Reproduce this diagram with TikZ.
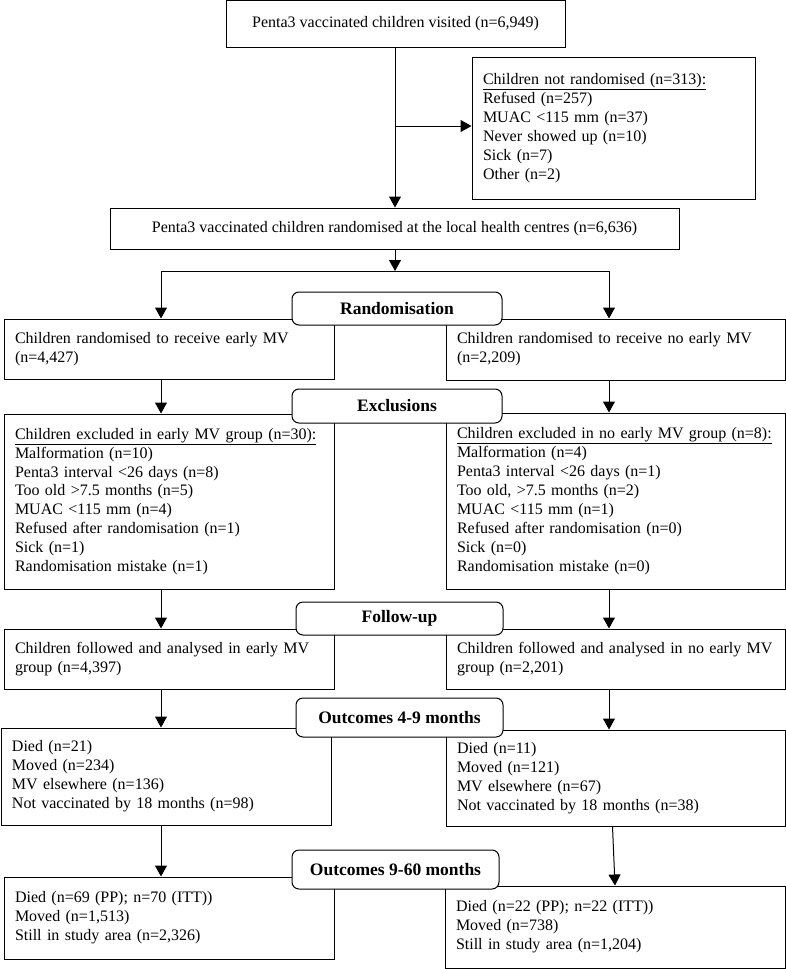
\documentclass[tikz,border=0pt]{standalone}
\usepackage{fontspec}
\setmainfont{Liberation Serif}
\usetikzlibrary{arrows.meta, positioning}

\begin{document}
\begin{tikzpicture}[
  x=1pt, y=-1pt,
  font=\fontsize{16}{18.9}\selectfont,
  infobox/.style={rectangle, draw=black, line width=1pt, inner xsep=11pt, inner ysep=0pt, align=left, fill=white},
  midbox/.style={rectangle, draw=black, line width=1pt, inner sep=0pt, align=center},
  stage/.style={rectangle, draw=black, line width=1pt, rounded corners=7pt, fill=white, inner sep=0pt, font=\fontsize{17.5}{20}\selectfont\bfseries},
  arr/.style={-{Triangle[length=11pt, width=12pt]}, line width=1pt}
]
\useasboundingbox (0,0) rectangle (786,969);

% top part
\node[midbox, minimum width=339pt, minimum height=47pt] (visit) at (395.5,23.5) {Penta3 vaccinated children visited (n=6,949)};
\node[infobox, text width=261pt, minimum height=142pt] (notrand) at (613.5,128) {\underline{Children not randomised (n=313):}\\Refused (n=257)\\MUAC <115 mm (n=37)\\Never showed up (n=10)\\Sick (n=7)\\Other (n=2)};
\node[midbox, minimum width=569pt, minimum height=41pt] (rand) at (394.5,228.5) {Penta3 vaccinated children randomised at the local health centres (n=6,636)};

% two arms
\node[infobox, text width=308pt, minimum height=60pt] (lrand) at (169,349) {Children randomised to receive early MV\\(n=4,427)};
\node[infobox, text width=317pt, minimum height=61pt] (rrand) at (615.5,349.5) {Children randomised to receive no early MV\\(n=2,209)};
\node[infobox, text width=308pt, minimum height=175pt] (lexcl) at (169,501.5) {\underline{Children excluded in early MV group (n=30):}\\Malformation (n=10)\\Penta3 interval <26 days (n=8)\\Too old >7.5 months (n=5)\\MUAC <115 mm (n=4)\\Refused after randomisation (n=1)\\Sick (n=1)\\Randomisation mistake (n=1)};
\node[infobox, text width=317pt, minimum height=176pt] (rexcl) at (615.5,501) {\underline{Children excluded in no early MV group (n=8):}\\Malformation (n=4)\\Penta3 interval <26 days (n=1)\\Too old, >7.5 months (n=2)\\MUAC <115 mm (n=1)\\Refused after randomisation (n=0)\\Sick (n=0)\\Randomisation mistake (n=0)};
\node[infobox, text width=308pt, minimum height=60pt] (lfol) at (169,659) {Children followed and analysed in early MV\\group (n=4,397)};
\node[infobox, text width=317pt, minimum height=60pt] (rfol) at (615.5,659) {Children followed and analysed in no early MV\\group (n=2,201)};
\node[infobox, text width=308pt, minimum height=97pt] (lout) at (166,776.5) {Died (n=21)\\Moved (n=234)\\MV elsewhere (n=136)\\Not vaccinated by 18 months (n=98)};
\node[infobox, text width=317pt, minimum height=96pt] (rout) at (615.5,778) {Died (n=11)\\Moved (n=121)\\MV elsewhere (n=67)\\Not vaccinated by 18 months (n=38)};
\node[infobox, text width=308pt, minimum height=82pt] (lfin) at (169,918) {Died (n=69 (PP); n=70 (ITT))\\Moved (n=1,513)\\Still in study area (n=2,326)};
\node[infobox, text width=318pt, minimum height=82pt] (rfin) at (615,927) {Died (n=22 (PP); n=22 (ITT))\\Moved (n=738)\\Still in study area (n=1,204)};

% stage labels
\node[stage, minimum width=210pt, minimum height=33pt] (s1) at (397,308.5) {Randomisation};
\node[stage, minimum width=210pt, minimum height=34pt] (s2) at (397,406) {Exclusions};
\node[stage, minimum width=207pt, minimum height=33pt] (s3) at (399.5,618.5) {Follow-up};
\node[stage, minimum width=207pt, minimum height=39pt] (s4) at (399.5,717.5) {Outcomes 4-9 months};
\node[stage, minimum width=207pt, minimum height=39pt] (s5) at (395.5,869.5) {Outcomes 9-60 months};

% connectors
\coordinate (split) at (395,271);
\coordinate (sl) at (161,271);
\coordinate (sr) at (609,271);
\coordinate (fork) at (395,126);
\draw[arr] (visit.south -| fork) -- (rand.north -| fork);
\draw[arr] (fork) -- (fork -| notrand.west);
\draw[arr] (rand.south -| split) -- (split);
\draw[line width=1pt] (sl) -- (sr);
\draw[arr] (sl) -- (sl |- lrand.north);
\draw[arr] (sr) -- (sr |- rrand.north);
\draw[arr] (lrand.south -| sl) -- (lexcl.north -| sl);
\draw[arr] (rrand.south -| sr) -- (rexcl.north -| sr);
\draw[arr] (lexcl.south -| sl) -- (lfol.north -| sl);
\draw[arr] (rexcl.south -| sr) -- (rfol.north -| sr);
\draw[arr] (lfol.south -| sl) -- (lout.north -| sl);
\draw[arr] (rfol.south -| sr) -- (rout.north -| sr);
\draw[arr] (lout.south -| sl) -- (lfin.north -| sl);
\draw[arr] ([xshift=-3pt]rout.south) -- (rfin.north);
\end{tikzpicture}
\end{document}
